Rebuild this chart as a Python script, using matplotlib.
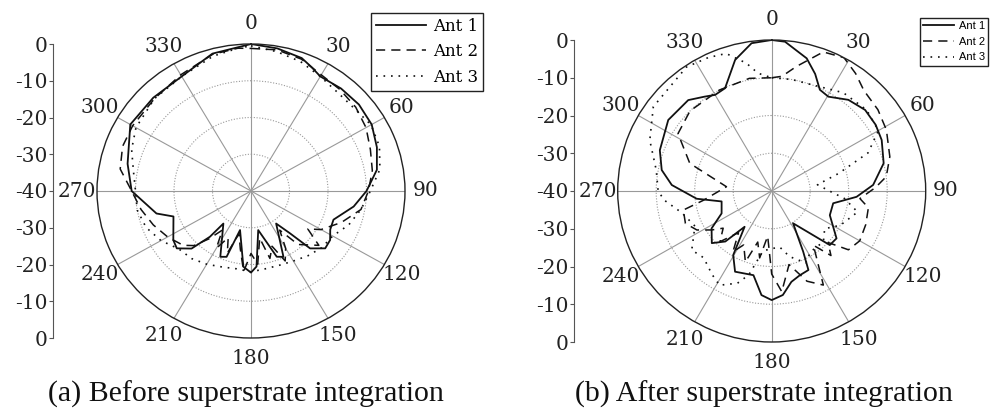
import numpy as np
import matplotlib
matplotlib.use('Agg')
import matplotlib.pyplot as plt

# (a) before superstrate: angle [deg], gain [dB]
a1_ang = [0, 10, 20, 25, 30, 40, 50, 60, 70, 80, 90, 99, 110, 117, 123, 129, 135.5, 138.7, 143.6,
          154.8, 159.5, 170, 176, 180, 185.5, 195, 199.5, 204, 219, 220.6, 224.6, 231, 236.5, 251,
          256, 270, 283, 300, 315, 330, 345]
a1_val = [0, -0.6, -1.5, -2.8, -4, -3.6, -3.4, -3.8, -5.2, -6.8, -10, -13, -17.2, -16.9, -15.5,
          -15.2, -18.1, -24.7, -29, -20.2, -20.9, -29.2, -19.4, -17.8, -19.3, -29, -21, -20.4, -28.6,
          -23.6, -18, -15.2, -15.8, -18.7, -14.7, -9, -7.1, -3.8, -4.1, -4, -1.3]

a2_ang = [0, 10, 20, 30, 40, 50, 60, 70, 80, 90, 100, 110, 120, 125, 130, 140, 145, 150, 155, 160,
          165, 170, 175, 180, 185, 190, 195, 200, 205, 210, 215, 220, 225, 230, 240, 250, 260, 270,
          280, 290, 300, 315, 330, 345, 355]
a2_val = [-1.2, -1, -1.8, -3.5, -4, -4.5, -5.5, -7, -8, -9.5, -11, -15, -19, -22, -17, -21, -27, -22,
          -19, -24, -21, -27, -20, -23, -18, -24, -28, -22, -26, -22, -27, -23, -19, -17, -15, -13,
          -11, -9, -5.5, -4.5, -4.5, -4.5, -3.5, -1.5, -1]

a3_ang = [0, 10, 20, 30, 40, 50, 60, 70, 80, 90, 100, 110, 120, 130, 140, 150, 160, 170, 180, 190,
          200, 210, 220, 230, 240, 250, 260, 270, 280, 290, 300, 315, 330, 345, 355]
a3_val = [-0.5, -1.5, -2.5, -4, -5, -5, -4, -4.5, -6, -9, -11, -13, -15.5, -16, -17, -18, -18.5,
          -18.5, -18, -18.5, -18, -17, -16, -15.5, -13, -11, -10, -10, -9, -7, -5.5, -4.5, -4, -2, -1]

# (b) after superstrate
b1_ang = [0, 5, 14.5, 20, 25, 30.5, 39.5, 48.5, 57, 64.7, 75.8, 86.5, 94, 101.5, 113, 126.7, 133.5,
          147, 153, 155.5, 162, 168, 174, 180, 185.5, 192, 204, 210.5, 216.6, 222, 228.4, 237.6,
          245.5, 258, 264, 273.5, 281, 290.4, 305, 318, 325, 330, 336, 344.7, 352.4]
b1_val = [0, -0.3, -3.7, -7, -10.4, -11, -8.7, -7.6, -7.8, -8.4, -10, -13.6, -17.9, -23.7, -23.6,
          -19, -19.2, -29.8, -22, -17, -16.5, -15.4, -12.3, -11.1, -12.3, -17.2, -16.6, -20.3, -28.2,
          -22, -19.2, -21.5, -25.7, -26.7, -20.4, -14, -10.9, -9, -7.2, -7.6, -9.5, -10.6, -10.2, -4,
          -0.5]

b2_ang = [0, 5, 11, 20, 28, 35, 42, 52, 61.5, 73.5, 82.7, 88, 95, 100, 110, 120, 128, 133, 138, 143,
          151.7, 159, 167, 174.4, 180, 185, 190, 195, 200, 207, 212, 218, 225, 232, 236.5, 242, 249,
          257.6, 262, 275.5, 289, 302, 315, 333, 349]
b2_val = [-10, -9.5, -6.4, -0.8, 0, -2, -4.2, -5, -6.1, -8, -10, -13, -17, -14.5, -14, -13.6, -14.7,
          -20, -17, -22, -11.7, -14.4, -20, -13.2, -18, -28, -22, -26, -20, -24, -21, -26, -21, -24,
          -21.3, -18, -16, -16.5, -22, -28.2, -17.5, -11.3, -10, -10, -9.6]

b3_ang = [0, 10, 20, 30, 35.6, 49, 60, 68, 75, 82, 90, 96, 104, 117, 126, 135, 148, 155, 165, 172,
          178.5, 188, 195, 200, 208.5, 215, 225, 233, 245, 256, 265, 270, 280.5, 293, 306, 326, 335,
          342, 349, 353.5]
b3_val = [-10, -10, -10, -9, -8, -7.3, -8, -13, -22, -28, -25, -21, -17, -20, -23, -21, -21, -19,
          -22, -25, -24.8, -24, -17, -14, -11.6, -13, -15, -14, -18, -16, -12, -10.5, -9.5, -5.6, -2,
          -0.4, -1, -1.7, -5.5, -8.6]

theta_ticks = list(range(0, 360, 30))
scale_ticks = [40, 30, 20, 10, 0, -10, -20, -30, -40]
scale_labels = ['0', '-10', '-20', '-30', '-40', '-30', '-20', '-10', '0']
labels = ['Ant 1', 'Ant 2', 'Ant 3']
captions = ['(a) Before superstrate integration', '(b) After superstrate integration']

W, H = 990, 413
fig = plt.figure(figsize=(W / 100, H / 100), dpi=100)
serif = 'DejaVu Serif'


def closed(ang, val):
    t = np.deg2rad(np.append(ang, ang[0]))
    return t, np.append(val, val[0])


def polar_panel(cx, rh, rv, axis_x, curves, caption, cap_x, leg):
    ax = fig.add_axes([(cx - rh) / W, (H - 191 - rv) / H, 2 * rh / W, 2 * rv / H],
                      projection='polar')
    ax.set_aspect('auto')
    ax.set_theta_zero_location('N')
    ax.set_theta_direction(-1)
    styles = [dict(ls='-', lw=1.3), dict(ls=(0, (6, 4)), lw=1.1), dict(ls=(0, (1, 3.5)), lw=1.2)]
    for (ang, val), st, lab in zip(curves, styles, labels):
        t, r = closed(ang, val)
        ax.plot(t, r, color='#111111', label=lab, **st)
    ax.set_rlim(-40, 0)
    ax.set_rticks([-30, -20, -10])
    ax.set_yticklabels([])
    ax.set_thetagrids(theta_ticks, [str(a) for a in theta_ticks])
    ax.yaxis.grid(True, color='#999999', ls=(0, (1, 1.5)), lw=0.8)
    ax.xaxis.grid(True, color='#999999', ls='-', lw=0.8)
    ax.spines['polar'].set_color('#222222')
    ax.spines['polar'].set_linewidth(1.0)
    ax.tick_params(axis='x', labelsize=14.5, pad=4)
    for tl in ax.get_xticklabels():
        tl.set_family(serif)
        tl.set_color('#222222')

    # linear dB scale on the left
    sa = fig.add_axes([axis_x / W, (H - 191 - rv) / H, 0.0005, 2 * rv / H])
    sa.set_ylim(-40, 40)
    sa.set_xticks([])
    for s in ['top', 'right', 'bottom']:
        sa.spines[s].set_visible(False)
    sa.spines['left'].set_color('#555555')
    sa.set_yticks(scale_ticks)
    sa.set_yticklabels(scale_labels, family=serif, fontsize=14.5, color='#222222')
    sa.tick_params(axis='y', length=3, pad=1, color='#555555')
    sa.patch.set_alpha(0)

    fig.text(cap_x / W, 1 - 394 / H, caption, family='Liberation Serif', fontsize=21.5,
             ha='center', va='center', color='#111111')

    handles, labs = ax.get_legend_handles_labels()
    lg = fig.legend(handles, labs, loc='upper right', bbox_to_anchor=leg['anchor'],
                    bbox_transform=fig.transFigure, prop=leg['prop'], fancybox=False,
                    framealpha=1, edgecolor='#222222', handlelength=leg['hl'],
                    labelspacing=leg['ls'], borderpad=0.3, handletextpad=0.4,
                    borderaxespad=0)
    lg.get_frame().set_linewidth(1.0)
    return ax


polar_panel(251, 154, 147, 53.3, [(a1_ang, a1_val), (a2_ang, a2_val), (a3_ang, a3_val)],
            captions[0], 246,
            dict(anchor=(483 / W, 1 - 13 / H), prop=dict(family=serif, size=12), hl=3.0, ls=0.5))
polar_panel(771.7, 154, 151, 574, [(b1_ang, b1_val), (b2_ang, b2_val), (b3_ang, b3_val)],
            captions[1], 764,
            dict(anchor=(988 / W, 1 - 18 / H), prop=dict(family='Liberation Sans', size=8),
                 hl=2.8, ls=0.5))

fig.savefig('out.png', dpi=100)
